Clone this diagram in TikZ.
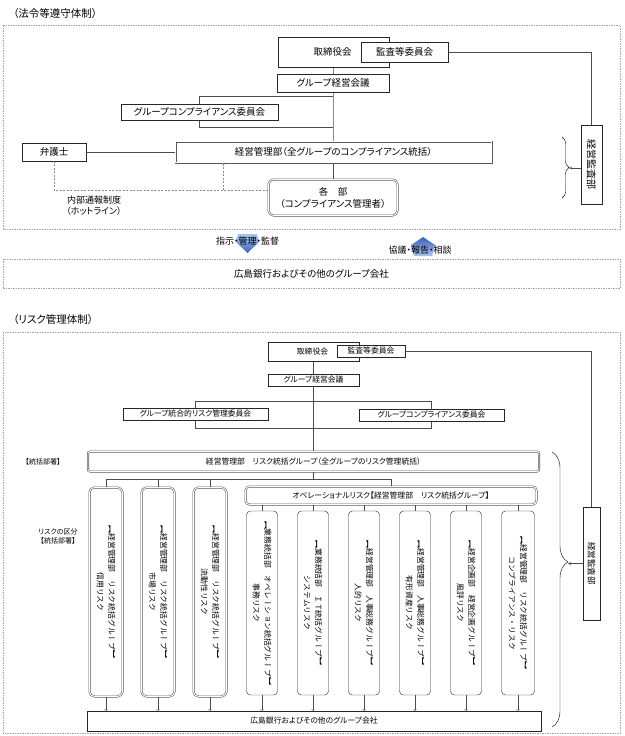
\documentclass[tikz,border=0pt]{standalone}
\usepackage{fontspec}
\usetikzlibrary{calc, decorations.pathreplacing, shapes}

\newfontfamily\jp[RawFeature=+palt]{Noto Sans CJK JP}
\newfontfamily\jpv[Vertical=RotatedGlyphs]{Noto Sans CJK JP}
\newcommand{\jpsize}[2]{\fontsize{#1}{#2}\selectfont}
\definecolor{arrowdark}{RGB}{58,100,190}
\definecolor{arrowlight}{RGB}{170,196,236}

\tikzset{
	box/.style={draw=black!85, fill=white, inner sep=0pt, font=\jp\jpsize{9.5}{11}},
	sbox/.style={box, font=\jp\jpsize{7.8}{9}},
	dbox/.style={draw=black!65, line width=0.55pt, fill=white, double=white, double distance=0.9pt, inner sep=0pt},
	rbox/.style={draw=black!85, fill=white, rounded corners=4pt, inner sep=0pt},
	vtext/.style={rotate=-90, inner sep=0pt, align=center, font=\jpv\jpsize{7.8}{11.5}},
	line/.style={draw=black!70},
	frame/.style={draw=black!35, dash pattern=on 1.5pt off 1pt},
	hot/.style={draw=black!45, dash pattern=on 2pt off 1.5pt},
	txt/.style={inner sep=0pt, font=\jp\jpsize{9.5}{12}}
}

\begin{document}
\begin{tikzpicture}[x=1pt, y=-1pt]
	\useasboundingbox (0,0) rectangle (624,736);

	% (法令等遵守体制)
	\node[txt, anchor=west, font=\jp\jpsize{10.5}{12}] (ttl1) at (13,14) {（法令等遵守体制）};
	\draw[frame] (3,25) rectangle (620,229);

	\coordinate (j1) at (333,96);
	\coordinate (j2) at (333,127);
	\coordinate (h0) at (268,190);
	\coordinate (h1) at (223,190);
	\coordinate (b1) at (569,168);

	\draw[line] (333,60) -- (j2) -- (333,185);
	\draw[line] (j1) -| (199.5,110);
	\draw[line] (j2) -| (199.5,115);
	\draw[line] (404,52) -| (591.5,140);

	\node[box, minimum width=111, minimum height=30] (tori1) at (333.5,52) {\hspace*{-2pt}取締役会};
	\node[box, minimum width=87, minimum height=20] (kansa1) at (404.5,52) {監査等委員会};
	\node[box, minimum width=112, minimum height=18] (kaigi1) at (333,83) {グループ経営会議};
	\node[box, minimum width=157, minimum height=16] (compl1) at (199.5,112) {グループコンプライアンス委員会};
	\node[dbox, minimum width=316, minimum height=21, font=\jp\jpsize{9.5}{11}] (kanri1) at (333.5,152) {経営管理部（全グループのコンプライアンス統括）};
	\node[box, minimum width=64, minimum height=18] (bengo) at (54,152) {弁護士};
	\node[dbox, rounded corners=5pt, minimum width=129, minimum height=36, align=center, font=\jp\jpsize{9.5}{12}] (kakubu) at (333,197.5) {各　部\\（コンプライアンス管理者）};
	\node[box, minimum width=21, minimum height=79] (kansabu1) at (591.5,164.5) {};
	\node[vtext, font=\jpv\jpsize{10}{12}] (kansabu1t) at (kansabu1) {経営監査部};

	\draw[line] (bengo) -- (kanri1);
	\draw[hot, ->] (h0) -| (bengo.south);
	\draw[hot, ->] (h1) -- (h1 |- kanri1.south);
	\node[txt, align=center, font=\jp\jpsize{9}{11}] (hotl) at (94,205.5) {内部通報制度\\（ホットライン）};

	\draw[decorate, decoration={brace, amplitude=7pt}] (562,137) -- (562,198);
	\draw[line, ->, >=stealth] (kansabu1.west |- b1) -- (b1);

	% 指示・管理・監督 / 協議・報告・相談
	\shade[top color=arrowlight, bottom color=arrowdark] (238,234) -- (257,234) -- (259,242) -- (247.5,253) -- (236,242) -- cycle;
	\shade[top color=arrowdark, bottom color=arrowlight] (423,237) -- (435,245) -- (432,256) -- (414,256) -- (411,245) -- cycle;
	\node[txt, font=\jp\jpsize{9}{11}] (shiji) at (247.5,241.5) {指示・管理・監督};
	\node[txt, font=\jp\jpsize{9}{11}] (kyogi) at (420,250) {協議・報告・相談};
	\node[frame, minimum width=617, minimum height=29, inner sep=0pt, font=\jp\jpsize{9.5}{11}] (grp1) at (311.5,273.5) {広島銀行およびその他のグループ会社};

	% (リスク管理体制)
	\node[txt, anchor=west, font=\jp\jpsize{10.5}{12}] (ttl2) at (13,320) {（リスク管理体制）};
	\draw[frame] (3,332) rectangle (620,733);

	\coordinate (j3) at (313,401);
	\coordinate (j4) at (313,428.5);
	\coordinate (bus) at (313,479);
	\coordinate (b2) at (568,563.5);

	\draw[line] (313,355) -- (bus);
	\draw[line] (j3) -| (195.5,412);
	\draw[line] (j4) -| (195.5,416);
	\draw[line] (j3) -| (431.5,413);
	\draw[line] (j4) -| (431.5,417);
	\draw[line] (371,351) -| (591.5,520);

	\node[box, minimum width=91, minimum height=19, font=\jp\jpsize{7.8}{9}] (tori2) at (313.5,351.5) {\hspace*{-2pt}取締役会};
	\node[sbox, minimum width=68, minimum height=12] (kansa2) at (371,351) {監査等委員会};
	\node[sbox, minimum width=91, minimum height=12] (kaigi2) at (313.5,380) {グループ経営会議};
	\node[sbox, minimum width=145, minimum height=12] (rcom) at (195.5,414) {グループ統合的リスク管理委員会};
	\node[sbox, minimum width=145, minimum height=12] (compl2) at (431.5,415) {グループコンプライアンス委員会};

	\node[txt, font=\jp\jpsize{7}{9}] (tokatsu) at (43,462) {【統括部署】};
	\node[dbox, rounded corners=2pt, minimum width=451, minimum height=20, font=\jp\jpsize{7.8}{9}] (kanri2) at (313.5,461.5) {経営管理部　リスク統括グループ（全グループのリスク管理統括）};
	\node[txt, align=center, font=\jp\jpsize{7}{9}] (kubun) at (58,536) {リスクの区分\\【統括部署】};

	\node[dbox, rounded corners=4pt, minimum width=291, minimum height=18, font=\jp\jpsize{7.8}{9}] (ops) at (391,495.5) {オペレーショナルリスク【経営管理部　リスク統括グループ】};

	\node[dbox, rounded corners=5pt, minimum width=33, minimum height=209] (r1) at (106,592) {};
	\node[dbox, rounded corners=5pt, minimum width=33, minimum height=209] (r2) at (158,592) {};
	\node[dbox, rounded corners=5pt, minimum width=33, minimum height=209] (r3) at (210,592) {};
	\node[rbox, minimum width=31, minimum height=184] (o1) at (262,603) {};
	\node[rbox, minimum width=31, minimum height=184] (o2) at (313,603) {};
	\node[rbox, minimum width=31, minimum height=184] (o3) at (364,603) {};
	\node[rbox, minimum width=31, minimum height=184] (o4) at (415,603) {};
	\node[rbox, minimum width=31, minimum height=184] (o5) at (466,603) {};
	\node[rbox, minimum width=33, minimum height=184] (o6) at (518,603) {};

	\node[vtext] (r1t) at (r1) {【経営管理部　リスク統括グループ】\\信用リスク};
	\node[vtext] (r2t) at (r2) {【経営管理部　リスク統括グループ】\\市場リスク};
	\node[vtext] (r3t) at (r3) {【経営管理部　リスク統括グループ】\\流動性リスク};
	\node[vtext] (o1t) at (o1) {【業務統括部　オペレーション統括グループ】\\事務リスク};
	\node[vtext] (o2t) at (o2) {【業務統括部　ＩＴ統括グループ】\\システムリスク};
	\node[vtext] (o3t) at (o3) {【経営管理部　人事総務グループ】\\人的リスク};
	\node[vtext] (o4t) at (o4) {【経営管理部　人事総務グループ】\\有形資産リスク};
	\node[vtext] (o5t) at (o5) {【経営企画部　経営企画グループ】\\風評リスク};
	\node[vtext] (o6t) at (o6) {【経営管理部　リスク統括グループ】\\コンプライアンス・リスク};

	\draw[line] (r1.north) |- (ops.north |- bus) -- (ops.north);
	\draw[line] (r2.north) -- (r2.north |- bus);
	\draw[line] (r3.north) -- (r3.north |- bus);
	\draw[line] (o1.north) -- (o1.north |- ops.south);
	\draw[line] (o2.north) -- (o2.north |- ops.south);
	\draw[line] (o3.north) -- (o3.north |- ops.south);
	\draw[line] (o4.north) -- (o4.north |- ops.south);
	\draw[line] (o5.north) -- (o5.north |- ops.south);
	\draw[line] (o6.north) -- (o6.north |- ops.south);

	\node[sbox, minimum width=454, minimum height=20] (grp2) at (314,721) {広島銀行およびその他のグループ会社};
	\draw[line, ->] (r1.south) -- (r1.south |- grp2.north);
	\draw[line, ->] (r2.south) -- (r2.south |- grp2.north);
	\draw[line, ->] (r3.south) -- (r3.south |- grp2.north);
	\draw[line, ->] (o1.south) -- (o1.south |- grp2.north);
	\draw[line, ->] (o2.south) -- (o2.south |- grp2.north);
	\draw[line, ->] (o3.south) -- (o3.south |- grp2.north);
	\draw[line, ->] (o4.south) -- (o4.south |- grp2.north);
	\draw[line, ->] (o5.south) -- (o5.south |- grp2.north);
	\draw[line, ->] (o6.south) -- (o6.south |- grp2.north);

	\node[box, minimum width=17, minimum height=113] (kansabu2) at (591.5,563.5) {};
	\node[vtext, font=\jpv\jpsize{8.5}{10}] (kansabu2t) at (kansabu2) {経営監査部};
	\draw[decorate, decoration={brace, amplitude=16pt, aspect=0.4}] (552,452) -- (552,727);
	\draw[line, ->, >=stealth] (kansabu2.west |- b2) -- (b2);
\end{tikzpicture}
\end{document}
